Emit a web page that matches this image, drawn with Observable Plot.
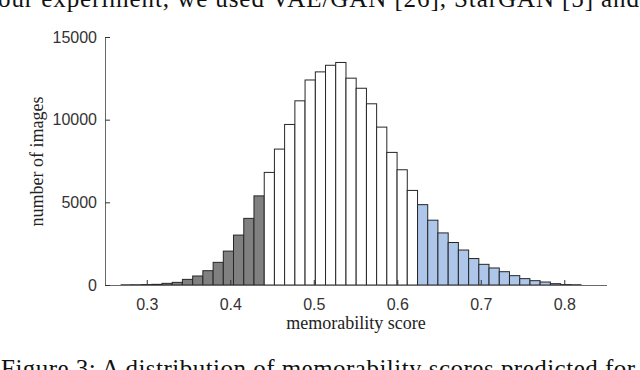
<!DOCTYPE html>
<html><head><meta charset="utf-8">
<script src="https://cdn.jsdelivr.net/npm/d3@7"></script>
<script src="https://cdn.jsdelivr.net/npm/@observablehq/plot@0.6"></script>
<style>
html,body{margin:0;padding:0;background:#fff;}
#wrap{position:relative;width:640px;height:370px;overflow:hidden;background:#fff;}
#wrap > svg{position:absolute;left:0;top:0;}
</style></head><body><div id="wrap"></div>
<script>
// histogram bin edges (memorability score)
const binStart = [0.2693,0.2815,0.2938,0.3060,0.3183,0.3305,0.3427,0.3550,0.3672,0.3795,0.3917,0.4039,0.4162,0.4284,0.4407,0.4529,0.4651,0.4774,0.4896,0.5019,0.5141,0.5263,0.5386,0.5508,0.5631,0.5753,0.5875,0.5998,0.6120,0.6243,0.6365,0.6487,0.6610,0.6732,0.6855,0.6977,0.7099,0.7222,0.7344,0.7467,0.7589,0.7711,0.7834,0.7956,0.8079];
const binEnd   = [0.2815,0.2938,0.3060,0.3183,0.3305,0.3427,0.3550,0.3672,0.3795,0.3917,0.4039,0.4162,0.4284,0.4407,0.4529,0.4651,0.4774,0.4896,0.5019,0.5141,0.5263,0.5386,0.5508,0.5631,0.5753,0.5875,0.5998,0.6120,0.6243,0.6365,0.6487,0.6610,0.6732,0.6855,0.6977,0.7099,0.7222,0.7344,0.7467,0.7589,0.7711,0.7834,0.7956,0.8079,0.8201];
// number of images per bin
const counts = [10,15,25,40,100,160,340,545,865,1370,2050,3020,4030,5390,6810,8220,9710,11140,12400,12890,13290,13460,12510,11900,10960,9550,8020,6970,5720,4860,3920,3150,2570,2115,1600,1250,1030,805,565,385,262,180,80,25,15];
// group of each bin
const groups = ["low","low","low","low","low","low","low","low","low","low","low","low","low","low",
  "mid","mid","mid","mid","mid","mid","mid","mid","mid","mid","mid","mid","mid","mid","mid",
  "high","high","high","high","high","high","high","high","high","high","high","high","high","high","high","high"];
const groupNames = ["low","mid","high"];
const groupColors = ["#808080","#ffffff","#adc6ea"];
const xTicks = [0.3,0.4,0.5,0.6,0.7,0.8];
const yTicks = [0,5000,10000,15000];
const xLabel = "memorability score";
const yLabel = "number of images";
const topText = "our experiment, we used VAE/GAN [26], StarGAN [5] and";
const captionText = "Figure 3: A distribution of memorability scores predicted for";

const bins = counts.map((c, i) => ({x1: binStart[i], x2: binEnd[i], y: c, g: groups[i]}));
const serif = "'Liberation Serif', 'Times New Roman', serif";
const sans = "'Liberation Sans', Arial, sans-serif";

const chart = Plot.plot({
  width: 640, height: 370,
  marginTop: 37, marginBottom: 85, marginLeft: 105, marginRight: 34,
  x: {domain: [0.25, 0.85]},
  y: {domain: [0, 15000]},
  color: {domain: groupNames, range: groupColors},
  style: {fontFamily: sans, background: "transparent", overflow: "visible"},
  marks: [
    Plot.rectY(bins, {x1: "x1", x2: "x2", y1: 0, y2: "y", fill: "g", stroke: "#262626", strokeWidth: 1}),
    Plot.frame({anchor: "left", stroke: "#6a6a6a"}),
    Plot.frame({anchor: "bottom", stroke: "#6a6a6a"}),
    Plot.axisX({ticks: xTicks, tickSize: -5, tickPadding: 18, tickFormat: d => d.toFixed(1), label: null, fontSize: 16, color: "#333"}),
    Plot.axisY({ticks: yTicks, tickSize: -5, tickPadding: 13.5, tickFormat: d => String(d), label: null, fontSize: 16, color: "#333"}),
    Plot.text([xLabel], {frameAnchor: "bottom", dy: 43, fontFamily: serif, fontSize: 18, fill: "#222"}),
    Plot.text([yLabel], {frameAnchor: "left", textAnchor: "middle", dx: -68, rotate: -90, fontFamily: serif, fontSize: 18, fill: "#222"})
  ]
});
const wrap = document.getElementById("wrap");
wrap.appendChild(chart);

// surrounding page text (above and below the figure, cut by the picture's edges)
const ns = "http://www.w3.org/2000/svg";
const pageSvg = document.createElementNS(ns, "svg");
pageSvg.setAttribute("width", 640); pageSvg.setAttribute("height", 370);
pageSvg.style.position = "absolute"; pageSvg.style.left = "0"; pageSvg.style.top = "0";
function addLine(str, x, y, len, size) {
  const t = document.createElementNS(ns, "text");
  t.setAttribute("x", x); t.setAttribute("y", y);
  t.setAttribute("textLength", len); t.setAttribute("lengthAdjust", "spacing");
  t.setAttribute("font-family", serif); t.setAttribute("font-size", size);
  t.setAttribute("fill", "#111");
  t.textContent = str;
  pageSvg.appendChild(t);
}
addLine(topText, -2, 7, 641, 25);
addLine(captionText, 1, 376.5, 634, 25);
wrap.appendChild(pageSvg);
</script></body></html>
